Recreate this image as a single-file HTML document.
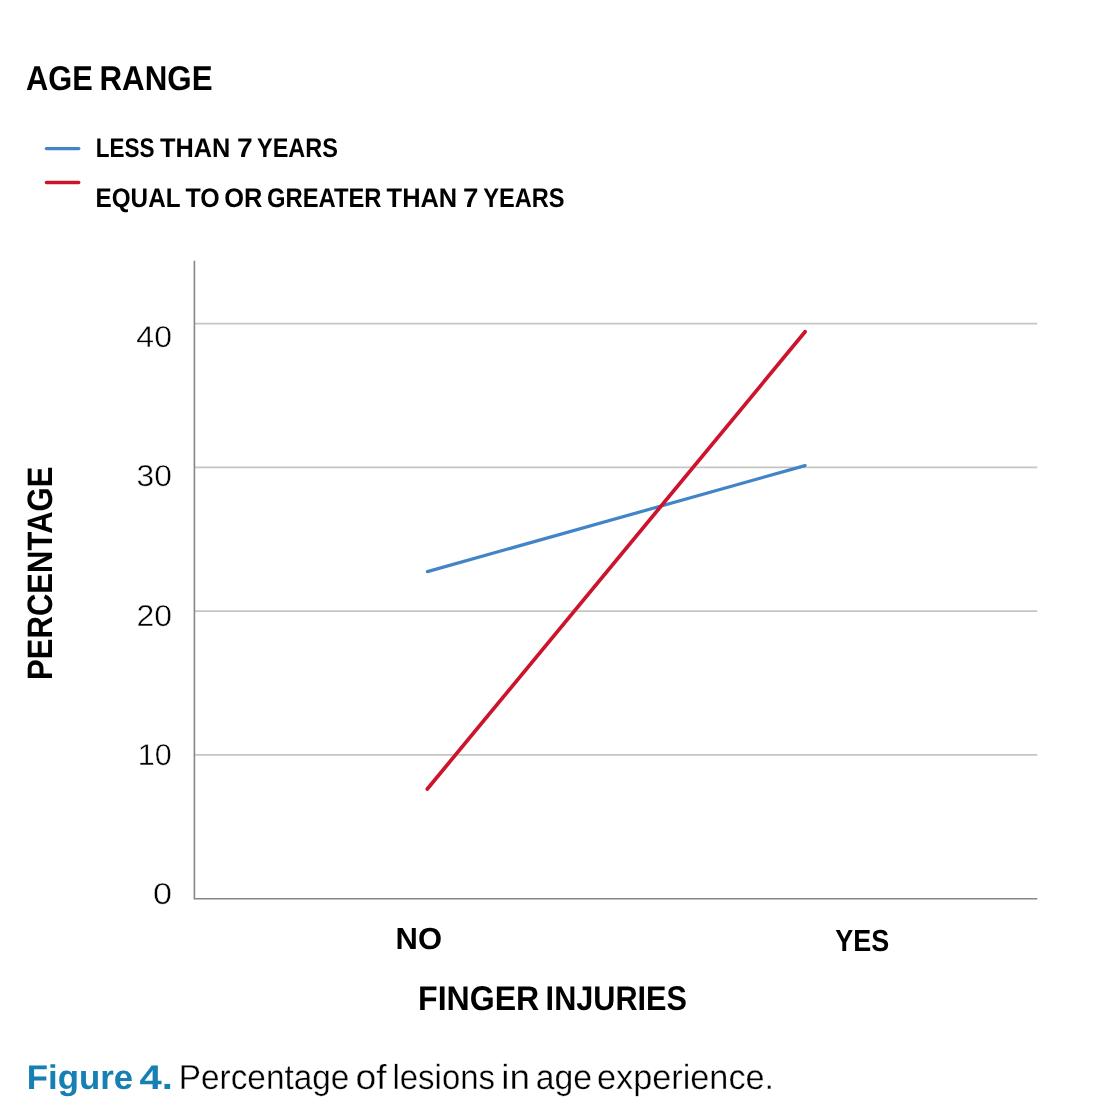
<!DOCTYPE html>
<html lang="en">
<head>
<meta charset="utf-8">
<title>Figure 4. Percentage of lesions in age experience.</title>
<style>
  html, body { margin: 0; padding: 0; background: #ffffff; }
  body { width: 1108px; height: 1120px; overflow: hidden; }
  svg { display: block; }
  text { font-family: "Liberation Sans", sans-serif; fill: #000000; text-rendering: geometricPrecision; }
  .b { font-weight: 700; }
  .l { stroke: #ffffff; stroke-width: 0.42px; }
  .m { stroke: #ffffff; stroke-width: 0.35px; }
</style>
</head>
<body>
<svg width="1108" height="1120" viewBox="0 0 1108 1120">
  <rect x="0" y="0" width="1108" height="1120" fill="#ffffff"/>

  <!-- legend -->
  <text class="b" y="90.00" font-size="34.45"><tspan x="26.01" textLength="66.69" lengthAdjust="spacingAndGlyphs">AGE</tspan> <tspan x="99.52" textLength="113.05" lengthAdjust="spacingAndGlyphs">RANGE</tspan></text>
  <line x1="46.4" y1="148.6" x2="78.8" y2="148.6" stroke="#4184c7" stroke-width="3.3" stroke-linecap="round"/>
  <line x1="46.4" y1="182.5" x2="78.8" y2="182.5" stroke="#cd142d" stroke-width="3.3" stroke-linecap="round"/>
  <text class="b" y="157.00" font-size="27.00"><tspan x="95.78" textLength="58.82" lengthAdjust="spacingAndGlyphs">LESS</tspan> <tspan x="159.92" textLength="70.39" lengthAdjust="spacingAndGlyphs">THAN</tspan> <tspan x="236.98" textLength="15.74" lengthAdjust="spacingAndGlyphs">7</tspan> <tspan x="257.02" textLength="80.97" lengthAdjust="spacingAndGlyphs">YEARS</tspan></text>
  <text class="b" y="207.00" font-size="27.00"><tspan x="95.56" textLength="84.49" lengthAdjust="spacingAndGlyphs">EQUAL</tspan> <tspan x="185.40" textLength="34.21" lengthAdjust="spacingAndGlyphs">TO</tspan> <tspan x="224.30" textLength="38.07" lengthAdjust="spacingAndGlyphs">OR</tspan> <tspan x="267.02" textLength="114.46" lengthAdjust="spacingAndGlyphs">GREATER</tspan> <tspan x="386.60" textLength="70.63" lengthAdjust="spacingAndGlyphs">THAN</tspan> <tspan x="463.13" textLength="15.44" lengthAdjust="spacingAndGlyphs">7</tspan> <tspan x="483.30" textLength="81.28" lengthAdjust="spacingAndGlyphs">YEARS</tspan></text>

  <!-- grid lines -->
  <g stroke="#c6c5c3" stroke-width="1.75">
    <line x1="194.4" y1="323.6" x2="1037.3" y2="323.6"/>
    <line x1="194.4" y1="467.3" x2="1037.3" y2="467.3"/>
    <line x1="194.4" y1="611.1" x2="1037.3" y2="611.1"/>
    <line x1="194.4" y1="754.8" x2="1037.3" y2="754.8"/>
  </g>
  <!-- axes -->
  <polyline points="194.4,260.7 194.4,898.7 1037.3,898.7" fill="none" stroke="#84868a" stroke-width="1.6"/>

  <!-- y tick labels -->
  <text class="l" x="136.36" y="347.00" font-size="30.20" textLength="35.59" lengthAdjust="spacingAndGlyphs">40</text>
  <text class="l" x="136.55" y="486.00" font-size="30.20" textLength="35.29" lengthAdjust="spacingAndGlyphs">30</text>
  <text class="l" x="136.45" y="626.00" font-size="30.20" textLength="35.49" lengthAdjust="spacingAndGlyphs">20</text>
  <text class="l" x="137.83" y="765.00" font-size="30.20" textLength="33.98" lengthAdjust="spacingAndGlyphs">10</text>
  <text class="l" x="153.11" y="904.00" font-size="30.20" textLength="19.04" lengthAdjust="spacingAndGlyphs">0</text>

  <!-- series -->
  <line x1="427.4" y1="571.6" x2="805.1" y2="465.6" stroke="#4184c7" stroke-width="3.2" stroke-linecap="round"/>
  <line x1="427.3" y1="789.0" x2="805.1" y2="331.8" stroke="#cd142d" stroke-width="3.7" stroke-linecap="round"/>

  <!-- x tick labels and axis title -->
  <text class="b" x="395.55" y="949.00" font-size="30.40" textLength="46.44" lengthAdjust="spacingAndGlyphs">NO</text>
  <text class="b" x="835.36" y="951.00" font-size="30.40" textLength="53.95" lengthAdjust="spacingAndGlyphs">YES</text>
  <text class="b" y="1010.00" font-size="34.30"><tspan x="418.04" textLength="121.24" lengthAdjust="spacingAndGlyphs">FINGER</tspan> <tspan x="545.62" textLength="141.39" lengthAdjust="spacingAndGlyphs">INJURIES</tspan></text>

  <!-- y axis title -->
  <text class="b" transform="translate(52.20 679.91) rotate(-90)" x="0" y="0" font-size="35.32" textLength="213.34" lengthAdjust="spacingAndGlyphs">PERCENTAGE</text>

  <!-- caption -->
  <text class="b" style="fill:#1680b3" y="1089.00" font-size="34.20"><tspan x="26.77" textLength="106.31" lengthAdjust="spacingAndGlyphs">Figure</tspan> <tspan x="139.63" textLength="33.33" lengthAdjust="spacingAndGlyphs">4.</tspan></text>
  <text class="m" y="1089.00" font-size="34.70"><tspan x="178.76" textLength="170.62" lengthAdjust="spacingAndGlyphs">Percentage</tspan> <tspan x="355.50" textLength="31.21" lengthAdjust="spacingAndGlyphs">of</tspan> <tspan x="392.44" textLength="102.60" lengthAdjust="spacingAndGlyphs">lesions</tspan> <tspan x="501.32" textLength="28.65" lengthAdjust="spacingAndGlyphs">in</tspan> <tspan x="535.76" textLength="56.29" lengthAdjust="spacingAndGlyphs">age</tspan> <tspan x="596.95" textLength="177.21" lengthAdjust="spacingAndGlyphs">experience.</tspan></text>
</svg>
</body>
</html>
